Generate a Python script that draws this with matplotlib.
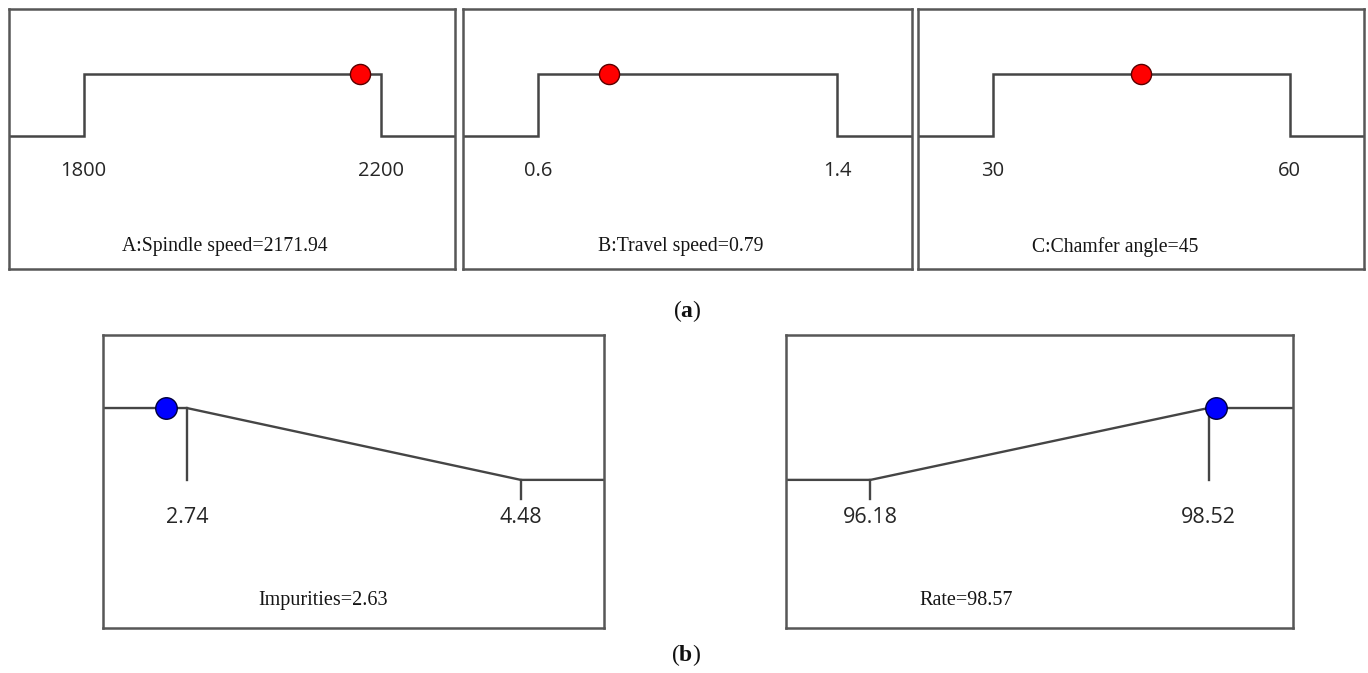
import numpy as np
import matplotlib
matplotlib.use('Agg')
import matplotlib.pyplot as plt

plt.rcParams['mathtext.fontset'] = 'custom'
plt.rcParams['mathtext.rm'] = 'Liberation Serif'
plt.rcParams['mathtext.bf'] = 'Liberation Serif:bold'

# factors (top row)
factor_names = ['A:Spindle speed', 'B:Travel speed', 'C:Chamfer angle']
factor_low = [1800, 0.6, 30]
factor_high = [2200, 1.4, 60]
factor_value = [2171.94, 0.79, 45]
factor_low_lbl = ['1800', '0.6', '30']
factor_high_lbl = ['2200', '1.4', '60']

# responses (bottom row)
resp_names = ['Impurities', 'Rate']
resp_low = [2.74, 96.18]
resp_high = [4.48, 98.52]
resp_value = [2.63, 98.57]
resp_goal = ['min', 'max']

W, H = 1368, 673
fig = plt.figure(figsize=(W / 100, H / 100), dpi=100)

# box positions in pixels: left, right, top, bottom
top_boxes = [(9.3, 455, 9.3, 268.7), (463.3, 911.7, 9.3, 268.7), (918.3, 1364, 9.3, 268.7)]
bot_boxes = [(103.3, 604.3, 334.7, 628), (786, 1293, 334.7, 628)]
top_title_x = [0.484, 0.485, 0.441]
bot_title_x = [0.439, 0.355]

line_c = '#454545'
box_c = '#575757'
num_font = dict(family='Open Sans', color='#262626')
ttl_font = dict(family='Liberation Serif', color='#151515')


def make_ax(px):
    l, r, t, b = px
    ax = fig.add_axes([l / W, 1 - b / H, (r - l) / W, (b - t) / H])
    ax.set_xticks([])
    ax.set_yticks([])
    for s in ax.spines.values():
        s.set_color(box_c)
        s.set_linewidth(1.8)
    ax.set_ylim(0, 1)
    return ax


HI, LO = 0.75, 0.51

for i in range(3):
    ax = make_ax(top_boxes[i])
    lo, hi = factor_low[i], factor_high[i]
    r = hi - lo
    x0, x1 = lo - 0.25 * r, hi + 0.25 * r
    ax.set_xlim(x0, x1)
    ax.plot([x0, lo, lo, hi, hi, x1], [LO, LO, HI, HI, LO, LO], color=line_c, lw=1.8,
            solid_joinstyle='miter', zorder=2)
    ax.plot(factor_value[i], HI, 'o', ms=14.5, mfc='#ff0000', mec='#5a0000', mew=1.0, zorder=3)
    ax.text(lo, 0.377, factor_low_lbl[i], ha='center', va='center', fontsize=14.5, **num_font)
    ax.text(hi, 0.377, factor_high_lbl[i], ha='center', va='center', fontsize=14.5, **num_font)
    ax.text(top_title_x[i], 0.084, f'{factor_names[i]}={factor_value[i]:g}',
            transform=ax.transAxes, ha='center', va='center', fontsize=14.2, **ttl_font)

HI2, LO2, TK = 0.75, 0.505, 0.44

for i in range(2):
    ax = make_ax(bot_boxes[i])
    lo, hi = resp_low[i], resp_high[i]
    r = hi - lo
    x0, x1 = lo - 0.25 * r, hi + 0.25 * r
    ax.set_xlim(x0, x1)
    if resp_goal[i] == 'min':
        ax.plot([x0, lo, hi, x1], [HI2, HI2, LO2, LO2], color=line_c, lw=1.7, zorder=2)
        ax.plot([lo, lo], [HI2, LO2], color=line_c, lw=1.7, zorder=2)
        ax.plot([hi, hi], [LO2, TK], color=line_c, lw=1.7, zorder=2)
    else:
        ax.plot([x0, lo, hi, x1], [LO2, LO2, HI2, HI2], color=line_c, lw=1.7, zorder=2)
        ax.plot([lo, lo], [LO2, TK], color=line_c, lw=1.7, zorder=2)
        ax.plot([hi, hi], [HI2, LO2], color=line_c, lw=1.7, zorder=2)
    ax.plot(resp_value[i], HI2, 'o', ms=15.5, mfc='#0000ff', mec='#00003a', mew=1.0, zorder=3)
    ax.text(lo, 0.378, f'{lo:g}', ha='center', va='center', fontsize=15.5, **num_font)
    ax.text(hi, 0.378, f'{hi:g}', ha='center', va='center', fontsize=15.5, **num_font)
    ax.text(bot_title_x[i], 0.094, f'{resp_names[i]}={resp_value[i]:g}',
            transform=ax.transAxes, ha='center', va='center', fontsize=14.5, **ttl_font)

fig.text(687 / W, 1 - 311 / H, r'($\mathbf{a}$)', ha='center', va='center', fontsize=17,
         family='Liberation Serif', color='#111111')
fig.text(686 / W, 1 - 655 / H, r'($\mathbf{b}$)', ha='center', va='center', fontsize=17,
         family='Liberation Serif', color='#111111')

fig.savefig('out.png', dpi=100, facecolor='white')
